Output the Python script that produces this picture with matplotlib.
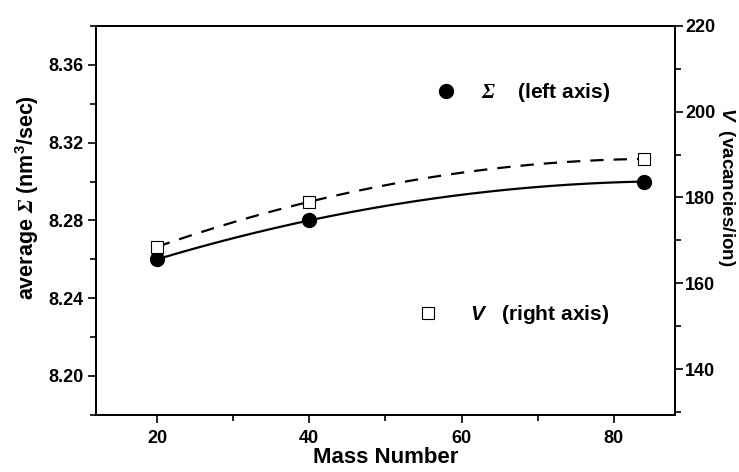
import matplotlib
matplotlib.use('Agg')
import matplotlib.pyplot as plt
from matplotlib.ticker import MultipleLocator, FormatStrFormatter
import numpy as np

plt.rcParams['font.family'] = ['Liberation Sans', 'DejaVu Sans']
plt.rcParams['font.weight'] = 'bold'
plt.rcParams['axes.labelweight'] = 'bold'
plt.rcParams['mathtext.fontset'] = 'custom'
plt.rcParams['mathtext.rm'] = 'Liberation Sans:bold'
plt.rcParams['mathtext.sf'] = 'Liberation Serif:italic'
plt.rcParams['mathtext.bf'] = 'Liberation Sans:italic:bold'

# data
mass = [20, 40, 84]
sigma = [8.26, 8.28, 8.30]        # left axis, nm^3/sec
vac = [168.5, 179.0, 189.0]       # right axis, vacancies/ion

fig = plt.figure(figsize=(7.39, 4.72), dpi=100)
ax = fig.add_axes([0.130, 0.121, 0.783, 0.824])
ax2 = ax.twinx()

# smooth curves through the points
xs = np.linspace(min(mass), max(mass), 200)
ax.plot(xs, np.polyval(np.polyfit(mass, sigma, 2), xs), color='black', lw=1.6)
ax2.plot(xs, np.polyval(np.polyfit(mass, vac, 2), xs), color='black', lw=1.6,
         dashes=(6, 4.5))

h1, = ax.plot(mass, sigma, 'o', color='black', ms=10, zorder=5)
h2, = ax2.plot(mass, vac, 's', mfc='white', mec='black', mew=0.8, ms=8, zorder=5)

ax.set_xlim(12, 88)
ax.set_ylim(8.18, 8.38)
ax2.set_ylim(129.3, 220)

ax.xaxis.set_major_locator(MultipleLocator(20))
ax.xaxis.set_minor_locator(MultipleLocator(10))
ax.yaxis.set_major_locator(MultipleLocator(0.04))
ax.yaxis.set_minor_locator(MultipleLocator(0.02))
ax.yaxis.set_major_formatter(FormatStrFormatter('%.2f'))
ax2.yaxis.set_major_locator(MultipleLocator(20))
ax2.yaxis.set_minor_locator(MultipleLocator(10))

for a in (ax, ax2):
    for s in a.spines.values():
        s.set_linewidth(1.4)
    a.tick_params(which='major', length=6, width=1.2, labelsize=13, pad=3)
    a.tick_params(which='minor', length=4, width=1.2)
    for lab in a.get_xticklabels() + a.get_yticklabels():
        lab.set_fontweight('bold')
ax.tick_params(which='both', top=False, right=False, direction='out')
ax.tick_params(axis='x', pad=5)
ax2.tick_params(which='both', direction='out')
ax2.tick_params(axis='y', pad=1.5)

ax.set_xlabel('Mass Number', fontsize=16, fontweight='bold', labelpad=0)
ax.set_ylabel(r'average $\mathsf{\Sigma}$ (nm$^3$/sec)', fontsize=15.5,
              fontweight='bold', va='center')
ax.yaxis.set_label_coords(-0.12, 0.56)
ax2.set_ylabel(r'$\mathbf{V}$  (vacancies/ion)', fontsize=13.5, fontweight='bold',
               rotation=270, va='center')
ax2.yaxis.set_label_coords(1.089, 0.586)

leg1 = ax.legend([h1], [r'$\mathsf{\Sigma}$    (left axis)'], loc='center left',
                 bbox_to_anchor=(0.586, 0.828), frameon=False,
                 prop={'size': 15, 'weight': 'bold'},
                 handlelength=1, handletextpad=1.2, borderpad=0, borderaxespad=0)
ax.add_artist(leg1)
ax.legend([h2], [r'$\mathbf{V}$   (right axis)'], loc='center left',
          bbox_to_anchor=(0.556, 0.257), frameon=False,
          prop={'size': 15, 'weight': 'bold'},
          handlelength=1, handletextpad=1.5, borderpad=0, borderaxespad=0)

fig.savefig('out.png', dpi=100)
